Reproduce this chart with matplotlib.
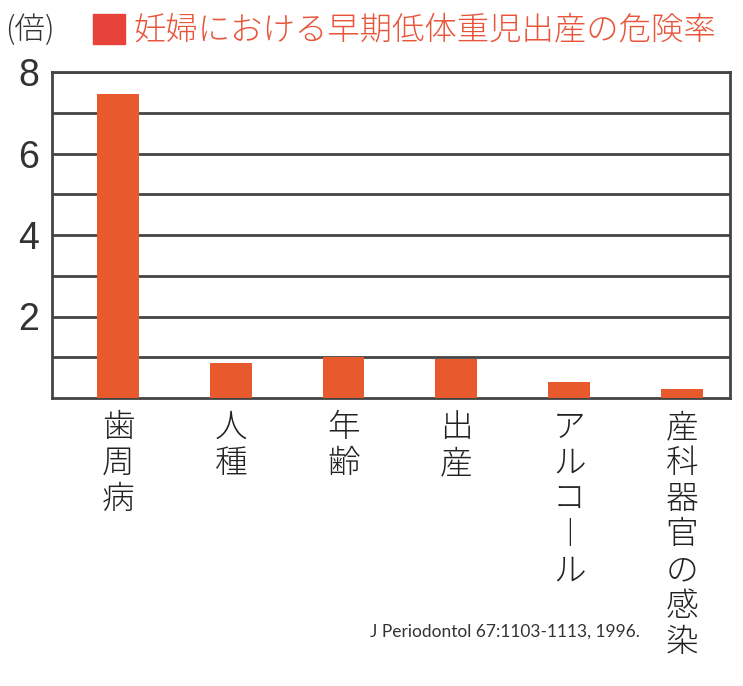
import matplotlib
matplotlib.use("Agg")
import matplotlib.pyplot as plt

# data
categories = ["歯周病", "人種", "年齢", "出産", "アルコール", "産科器官の感染"]
risk = [7.47, 0.85, 1.0, 0.96, 0.4, 0.21]
ytick_values = [2, 4, 6, 8]
title = "妊婦における早期低体重児出産の危険率"
unit = "(倍)"
source = "J Periodontol 67:1103-1113, 1996."

bar_color = "#E85A2E"
title_color = "#E8553A"
square_color = "#E8433A"
line_color = "#444444"
jp = ["Noto Sans CJK JP", "DejaVu Sans"]


def vertical(label):
    # stack the characters, long vowel mark turned upright
    return "\n".join("︱" if c == "ー" else c for c in label)


fig = plt.figure(figsize=(7.43, 6.86), dpi=100)
ax = fig.add_axes([52 / 743, 1 - 398 / 686, 678 / 743, 326 / 686])

x = list(range(len(categories)))
ax.bar(x, risk, width=0.37, color=bar_color, zorder=3)

ax.set_ylim(0, 8)
ax.set_xlim(-0.585, 5.426)
ax.set_yticks(range(1, 9))
ax.set_yticklabels([str(v) if v in ytick_values else "" for v in range(1, 9)],
                   fontfamily="Liberation Sans", fontsize=27, color="#333333")
ax.tick_params(axis="y", length=0, pad=9)
ax.grid(axis="y", color=line_color, linewidth=2, zorder=1)
for s in ax.spines.values():
    s.set_color(line_color)
    s.set_linewidth(2)

ax.set_xticks(x)
ax.set_xticklabels([vertical(c) for c in categories], family=jp, fontsize=23.5,
                   fontweight="light", color="#222222", va="top", linespacing=1.05)
ax.tick_params(axis="x", length=0, pad=9)

# header
fig.text(5 / 743, 1 - 30 / 686, unit, family=jp, fontsize=22, fontweight="light",
         color="#333333", va="center")
fig.patches.append(plt.Rectangle((93 / 743, 1 - 44 / 686), 32 / 743, 30 / 686,
                                 transform=fig.transFigure, color=square_color))
fig.text(133 / 743, 1 - 30 / 686, title, family=jp, fontsize=23.3, fontweight="light",
         color=title_color, va="center")

fig.text(370 / 743, 1 - 632 / 686, source, fontfamily="Lato",
         fontsize=12.5, color="#333333", va="center")

fig.savefig("out.png", dpi=100)
